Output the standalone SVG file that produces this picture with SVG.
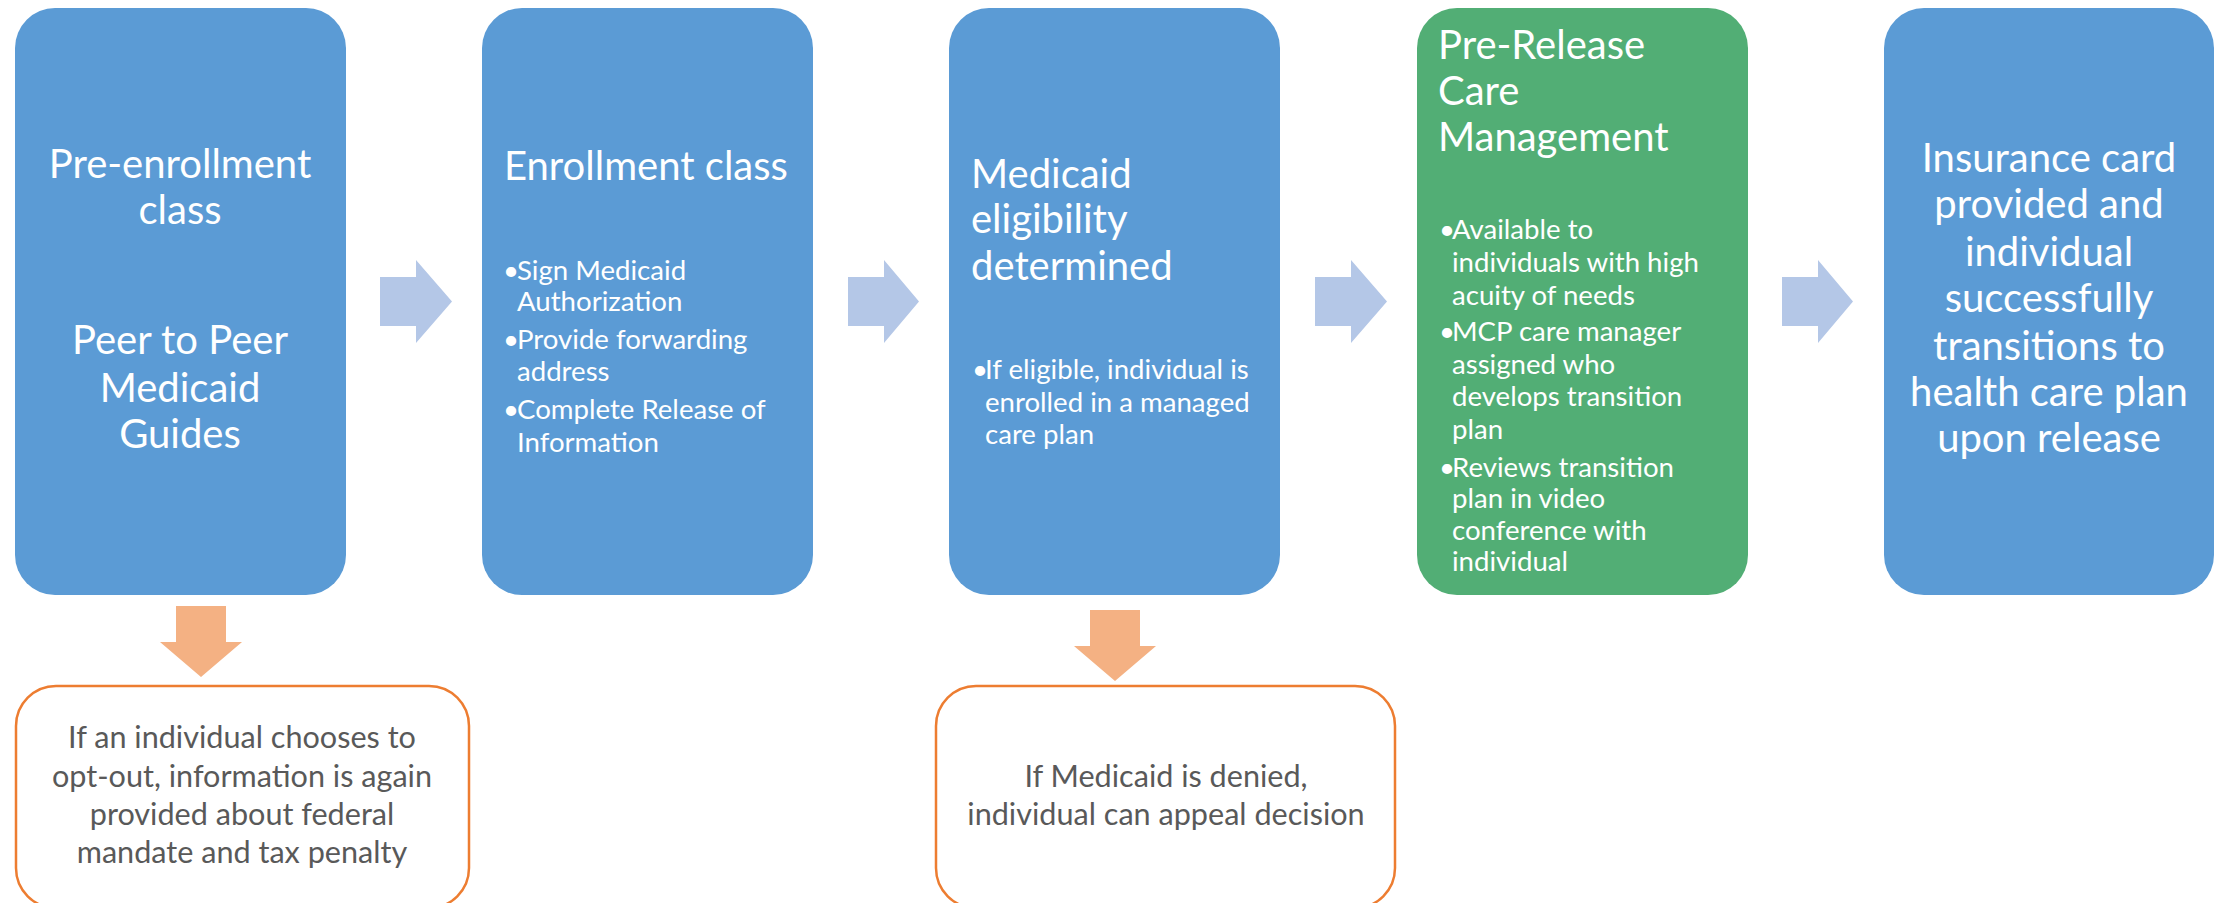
<svg xmlns="http://www.w3.org/2000/svg" width="2221" height="903" viewBox="0 0 2221 903">
<style>
.blue{fill:#5B9BD5}
.green{fill:#52AE75}
.note{fill:#FFFFFF;stroke:#ED7D31;stroke-width:2.5}
.rarrow{fill:#B4C7E7}
.darrow{fill:#F4B183}
.t{font-family:Lato,"Liberation Sans",sans-serif;fill:#FFFFFF}
.title{font-size:40px}
.bul{font-size:27.6px}
.c{text-anchor:middle}
.g{font-family:Lato,"Liberation Sans",sans-serif;fill:#595959;font-size:30.6px;text-anchor:middle}
</style>
<rect width="2221" height="903" fill="#FFFFFF"/>
<g id="connectors">
<polygon class="rarrow" points="380,277 416,277 416,260 452,301.5 416,343 416,326 380,326"/>
<polygon class="rarrow" points="848,277 884,277 884,260 919,301.5 884,343 884,326 848,326"/>
<polygon class="rarrow" points="1315,277 1351,277 1351,260 1387,301.5 1351,343 1351,326 1315,326"/>
<polygon class="rarrow" points="1782,277 1818,277 1818,260 1853,301.5 1818,343 1818,326 1782,326"/>
<polygon class="darrow" points="176,606 226,606 226,642 242,642 201,677 160,642 176,642"/>
<polygon class="darrow" points="1090,610 1140,610 1140,646 1156,646 1115,681 1074,646 1090,646"/>
</g>
<g id="node1">
<rect class="blue" x="15" y="8" width="331" height="587" rx="40"/>
<text class="t title c" x="180"><tspan x="180" y="178">Pre-enrollment</tspan><tspan x="180" y="224">class</tspan><tspan x="180" y="354">Peer to Peer</tspan><tspan x="180" y="402">Medicaid</tspan><tspan x="180" y="448">Guides</tspan></text>
</g>
<g id="node2">
<rect class="blue" x="482" y="8" width="331" height="587" rx="40"/>
<text class="t title" x="504" y="180">Enrollment class</text>
<text class="t bul"><tspan x="503" y="280">•</tspan><tspan x="517" y="280">Sign Medicaid</tspan><tspan x="517" y="311">Authorization</tspan><tspan x="503" y="349">•</tspan><tspan x="517" y="349">Provide forwarding</tspan><tspan x="517" y="381">address</tspan><tspan x="503" y="419">•</tspan><tspan x="517" y="419">Complete Release of</tspan><tspan x="517" y="452">Information</tspan></text>
</g>
<g id="node3">
<rect class="blue" x="949" y="8" width="331" height="587" rx="40"/>
<text class="t title"><tspan x="971" y="188">Medicaid</tspan><tspan x="971" y="233">eligibility</tspan><tspan x="971" y="280">determined</tspan></text>
<text class="t bul"><tspan x="972" y="379">•</tspan><tspan x="985" y="379">If eligible, individual is</tspan><tspan x="985" y="412">enrolled in a managed</tspan><tspan x="985" y="444">care plan</tspan></text>
</g>
<g id="node4">
<rect class="green" x="1417" y="8" width="331" height="587" rx="40"/>
<text class="t title"><tspan x="1438" y="59">Pre-Release</tspan><tspan x="1438" y="105">Care</tspan><tspan x="1438" y="151">Management</tspan></text>
<text class="t bul"><tspan x="1439" y="239">•</tspan><tspan x="1452" y="239">Available to</tspan><tspan x="1452" y="272">individuals with high</tspan><tspan x="1452" y="305">acuity of needs</tspan><tspan x="1439" y="341">•</tspan><tspan x="1452" y="341">MCP care manager</tspan><tspan x="1452" y="374">assigned who</tspan><tspan x="1452" y="406">develops transition</tspan><tspan x="1452" y="439">plan</tspan><tspan x="1439" y="477">•</tspan><tspan x="1452" y="477">Reviews transition</tspan><tspan x="1452" y="508">plan in video</tspan><tspan x="1452" y="540">conference with</tspan><tspan x="1452" y="571">individual</tspan></text>
</g>
<g id="node5">
<rect class="blue" x="1884" y="8" width="330" height="587" rx="40"/>
<text class="t title c"><tspan x="2049" y="172">Insurance card</tspan><tspan x="2049" y="218">provided and</tspan><tspan x="2049" y="266">individual</tspan><tspan x="2049" y="312">successfully</tspan><tspan x="2049" y="360">transitions to</tspan><tspan x="2049" y="406">health care plan</tspan><tspan x="2049" y="452">upon release</tspan></text>
</g>
<g id="note1">
<rect class="note" x="16" y="686" width="453" height="222" rx="40"/>
<text class="g"><tspan x="242" y="748">If an individual chooses to</tspan><tspan x="242" y="787">opt-out, information is again</tspan><tspan x="242" y="825">provided about federal</tspan><tspan x="242" y="863">mandate and tax penalty</tspan></text>
</g>
<g id="note2">
<rect class="note" x="936" y="686" width="459" height="222" rx="40"/>
<text class="g"><tspan x="1166" y="787">If Medicaid is denied,</tspan><tspan x="1166" y="825">individual can appeal decision</tspan></text>
</g>
</svg>
